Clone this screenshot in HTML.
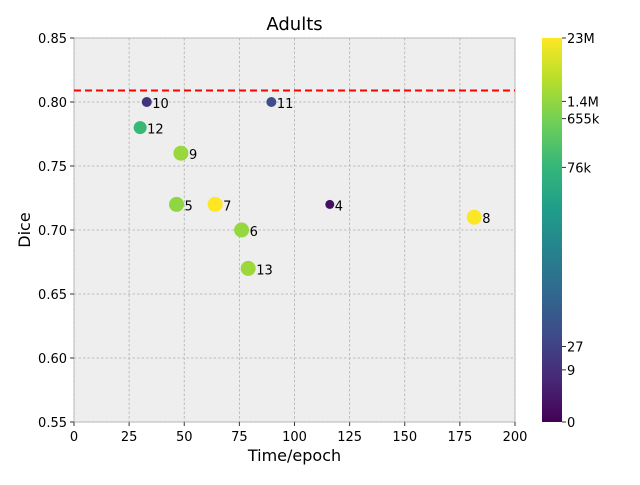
<!DOCTYPE html>
<html><head><meta charset="utf-8"><style>
body{margin:0;background:#fff;width:640px;height:480px;overflow:hidden}
svg{font-family:"DejaVu Sans","Liberation Sans",sans-serif}
</style></head><body>
<svg id="chart" width="640" height="480"></svg>
<script>
const labels=["10","11","12","9","5","7","6","13","4","8"];
const times=[33,89.5,30,48.5,46.5,64,76,79,116,181.5];
const dice=[0.80,0.80,0.78,0.76,0.72,0.72,0.70,0.67,0.72,0.71];
const params=[12,60,90000,1600000,1300000,23000000,1500000,1800000,1,22000000];
const xTicks=[0,25,50,75,100,125,150,175,200];
const yTicks=[0.55,0.60,0.65,0.70,0.75,0.80,0.85];
const cbTicks=[0,9,27,76000,655000,1400000,23000000];
const cbLabels=["0","9","27","76k","655k","1.4M","23M"];
const baseline=0.809;
const NS="http://www.w3.org/2000/svg",svg=document.getElementById('chart');
const L=74,R=515,T=38,B=422;
const xs=v=>L+(v-0)/200*(R-L), ys=v=>B-(v-0.55)/0.30*(B-T);
const cmax=Math.log10(23000001), cf=v=>Math.log10(v+1)/cmax;
const vir=[[68,1,84],[72,40,120],[62,74,137],[49,104,142],[38,130,142],[31,158,137],[53,183,121],[110,206,88],[181,222,43],[253,231,37]];
function viridis(t){t=Math.max(0,Math.min(1,t))*9;const i=Math.min(8,Math.floor(t)),f=t-i,a=vir[i],b=vir[i+1];return `rgb(${a.map((c,k)=>Math.round(c+(b[k]-c)*f)).join(',')})`;}
function el(tag,at,txt){const e=document.createElementNS(NS,tag);for(const k in at)e.setAttribute(k,at[k]);if(txt!=null)e.textContent=txt;svg.appendChild(e);return e;}
let e=el('rect',{x:L,y:T,width:R-L,height:B-T,fill:'#eeeeee',stroke:'#bbbbbb'});

xTicks.forEach(t=>{const x=xs(t);
 e=el('line',{x1:x,x2:x,y1:T,y2:B,stroke:'#b0b0b0','stroke-width':0.8,'stroke-dasharray':'2.5,2'});
 e=el('line',{x1:x,x2:x,y1:B,y2:B+4,stroke:'#333'});
 e=el('text',{x:x,y:B+19,'text-anchor':'middle','font-size':13,fill:'#000'},t);});
yTicks.forEach(t=>{const y=ys(t);
 e=el('line',{x1:L,x2:R,y1:y,y2:y,stroke:'#b0b0b0','stroke-width':0.8,'stroke-dasharray':'2.5,2'});
 e=el('line',{x1:L-4,x2:L,y1:y,y2:y,stroke:'#333'});
 e=el('text',{x:L-7,y:y+5,'text-anchor':'end','font-size':13,fill:'#000'},t.toFixed(2));});
e=el('line',{x1:L,x2:R,y1:ys(baseline),y2:ys(baseline),stroke:'#ff0000','stroke-width':2,'stroke-dasharray':'7,4'});

labels.forEach((lb,i)=>{const x=xs(times[i]),y=ys(dice[i]);const p=params[i];
 const r=p<10?4.5:p<1000?5:p<500000?6.5:7.5;
 e=el('circle',{cx:x,cy:y,r:r,fill:viridis(cf(p))});
 e=el('text',{x:x+r+0.5,y:y+6,'font-size':13,fill:'#000'},lb);});
e=el('text',{x:(L+R)/2,y:30,'text-anchor':'middle','font-size':18,fill:'#000'},'Adults');
e=el('text',{x:(L+R)/2,y:461,'text-anchor':'middle','font-size':16,fill:'#000'},'Time/epoch');
e=el('text',{x:30,y:(T+B)/2,'text-anchor':'middle','font-size':16,fill:'#000',transform:`rotate(-90 30 ${(T+B)/2})`},'Dice');
const defs=el('defs',{});const g=document.createElementNS(NS,'linearGradient');g.setAttribute('id','vg');g.setAttribute('x1','0');g.setAttribute('y1','1');g.setAttribute('x2','0');g.setAttribute('y2','0');defs.appendChild(g);
for(let k=0;k<=9;k++){const s=document.createElementNS(NS,'stop');s.setAttribute('offset',k/9);s.setAttribute('stop-color',viridis(k/9));g.appendChild(s);}
const CL=542,CR=562;
e=el('rect',{x:CL,y:T,width:CR-CL,height:B-T,fill:'url(#vg)'});
cbTicks.forEach((t,i)=>{const y=B-cf(t)*(B-T);
 e=el('line',{x1:CR,x2:CR+4,y1:y,y2:y,stroke:'#333'});
 e=el('text',{x:CR+5,y:y+5,'font-size':13,fill:'#000'},cbLabels[i]);});
</script></body></html>
